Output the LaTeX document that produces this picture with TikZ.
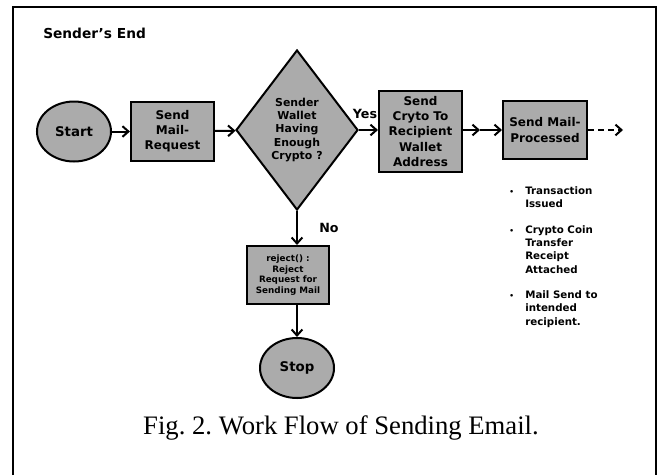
\documentclass[tikz,border=0pt]{standalone}
\usepackage{fontspec}
\setmainfont{Liberation Serif}
\newfontfamily\djsans{DejaVu Sans}
\usetikzlibrary{shapes.geometric,arrows.meta}
\frenchspacing

\begin{document}
\begin{tikzpicture}[x=0.75pt,y=-0.75pt,
	blk/.style={draw=black, line width=1.5pt, fill=black!33, inner sep=0pt, align=center, font=\djsans\bfseries\fontsize{9}{11.3}\selectfont},
	term/.style={blk, ellipse, minimum width=55.5pt, minimum height=45pt, font=\djsans\bfseries\fontsize{10}{12}\selectfont},
	lbl/.style={inner sep=0pt, font=\djsans\bfseries\fontsize{9.5}{11}\selectfont},
	flow/.style={line width=1.5pt, -{Straight Barb[length=4.5pt,width=8pt]}}]
			%%%%% START %%%%%
			\useasboundingbox (0,0) rectangle (659,475);
			\draw[line width=1.5pt] (13,475) -- (13,7) -- (656,7) -- (656,475);
			
			\node[lbl, anchor=west, font=\djsans\bfseries\fontsize{10.3}{12}\selectfont] (title) at (43,33) {Sender’s End};
			
			\node[term] (start) at (74,131.5) {Start};
			\node[blk, minimum width=62.3pt, minimum height=44.3pt] (req) at (172.5,131.5) {Send\\Mail-\\Request};
			\node[blk, diamond, minimum width=91.5pt, minimum height=120pt, font=\djsans\bfseries\fontsize{8.2}{9.8}\selectfont] (chk) at (297,130) {Sender\\Wallet\\Having\\Enough\\Crypto ?};
			\node[blk, minimum width=62.3pt, minimum height=60.8pt] (pay) at (420.5,131.5) {Send\\Cryto To\\Recipient\\Wallet\\Address};
			\node[blk, minimum width=63pt, minimum height=43.5pt] (done) at (545,130) {Send Mail-\\Processed};
			\node[blk, minimum width=62pt, minimum height=43.5pt, font=\djsans\bfseries\fontsize{6.6}{8}\selectfont] (rej) at (288,275) {reject() :\\Reject\\Request for\\Sending Mail};
			\node[term] (stop) at (297,368) {Stop};
			
			\node[lbl] (yes) at (365,114) {Yes};
			\node[lbl] (no) at (329,228) {No};
			
			\coordinate (mid) at (480,130);
			\coordinate (out) at (623,130);
			
			\draw[flow] (start) -- (req);
			\draw[flow] (req) -- (chk);
			\draw[flow] (chk.east) -- (chk.east -| pay.west);
			\draw[flow] (mid -| pay.east) -- (mid);
			\draw[flow] (mid) -- (done);
			\draw[flow, dash pattern=on 4.5pt off 3pt] (done) -- (out);
			\draw[flow] (chk.south) -- (chk.south |- rej.north);
			\draw[flow] (rej.south -| stop) -- (stop);
			
			\node[inner sep=0pt, anchor=north west, font=\djsans\bfseries\fontsize{7.7}{10}\selectfont] (notes) at (509,185) {%
				\begin{tabular}{@{}c@{\hspace{8.5pt}}l@{}}
					{\fontsize{5.5}{5}\selectfont•} & Transaction\\
					& Issued\\[9pt]
					{\fontsize{5.5}{5}\selectfont•} & Crypto Coin\\
					& Transfer\\
					& Receipt\\
					& Attached\\[9pt]
					{\fontsize{5.5}{5}\selectfont•} & Mail Send to\\
					& intended\\
					& recipient.
				\end{tabular}};
			
			\node[font=\fontsize{20}{23}\selectfont] (cap) at (341,428) {Fig. 2. Work Flow of Sending Email.};
			%%%%% END %%%%%
\end{tikzpicture}
\end{document}
